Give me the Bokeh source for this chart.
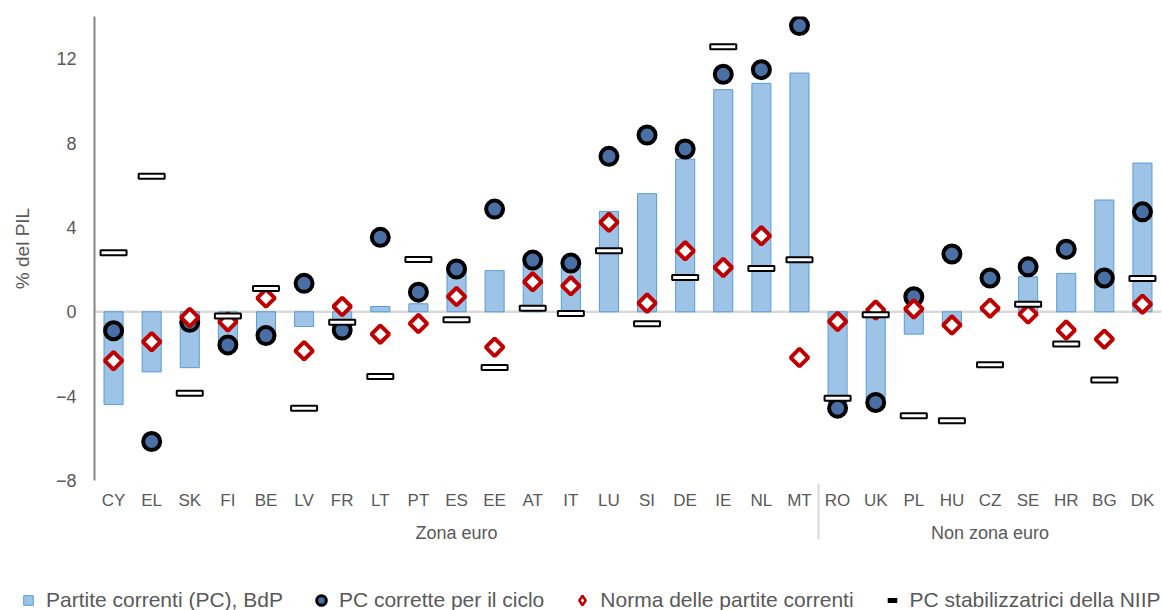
import math
from bokeh.plotting import figure
from bokeh.models import (FactorRange, Range1d, FixedTicker, Span, Legend,
                          LegendItem, ColumnDataSource)
from bokeh.embed import file_html
from bokeh.resources import INLINE

# ---------------- data ----------------
countries = ["CY", "EL", "SK", "FI", "BE", "LV", "FR", "LT", "PT", "ES",
             "EE", "AT", "IT", "LU", "SI", "DE", "IE", "NL", "MT",
             "RO", "UK", "PL", "HU", "CZ", "SE", "HR", "BG", "DK"]
groups = ["Zona euro"] * 19 + ["Non zona euro"] * 9

# Partite correnti (PC), BdP
ca_bop = [-4.4, -2.85, -2.65, -1.5, -1.1, -0.7, -0.75, 0.25, 0.38, 2.0,
          1.95, 2.3, 2.1, 4.76, 5.6, 7.24, 10.53, 10.83, 11.32,
          -4.3, -4.15, -1.06, -0.55, 0.05, 1.66, 1.82, 5.3, 7.05]
# PC corrette per il ciclo
ca_cyc = [-0.9, -6.15, -0.5, -1.57, -1.13, 1.35, -0.87, 3.53, 0.93, 2.03,
          4.87, 2.45, 2.31, 7.37, 8.38, 7.72, 11.26, 11.48, 13.57,
          -4.57, -4.3, 0.71, 2.74, 1.6, 2.13, 2.97, 1.6, 4.74]
# Norma delle partite correnti
ca_norm = [-2.32, -1.42, -0.27, -0.48, 0.65, -1.85, 0.25, -1.06, -0.56, 0.72,
           -1.68, 1.42, 1.23, 4.24, 0.41, 2.89, 2.1, 3.6, -2.17,
           -0.46, 0.08, 0.13, -0.63, 0.17, -0.11, -0.87, -1.3, 0.36]
# PC stabilizzatrici della NIIP
ca_niip = [2.8, 6.42, -3.86, -0.2, 1.1, -4.57, -0.5, -3.07, 2.48, -0.38,
           -2.64, 0.17, -0.08, 2.89, -0.57, 1.63, 12.57, 2.05, 2.47,
           -4.1, -0.14, -4.93, -5.17, -2.51, 0.36, -1.53, -3.23, 1.58]

y_ticks = [-8, -4, 0, 4, 8, 12]
legend_labels = ["Partite correnti (PC), BdP", "PC corrette per il ciclo",
                 "Norma delle partite correnti", "PC stabilizzatrici della NIIP"]

FONT = "Liberation Sans"
TXT = "#595959"
BAR_FILL = "#9dc3e6"
BAR_LINE = "#5b9bd5"
DOT_FILL = "#4a6fa5"
RED = "#c00000"

factors = list(zip(groups, countries))
src = ColumnDataSource(dict(x=factors, bop=ca_bop, cyc=ca_cyc,
                            norm=ca_norm, niip=ca_niip))

p = figure(width=1162, height=570, output_backend="svg", toolbar_location=None,
           x_range=FactorRange(factors=factors, group_padding=0,
                               factor_padding=0, range_padding=0),
           y_range=Range1d(-8, 14),
           min_border_left=94, min_border_right=1, min_border_top=16,
           min_border_bottom=90)
p.outline_line_color = None
p.grid.visible = False

zero = Span(location=0, dimension="width", line_color="#d9d9d9",
            line_width=2.5, level="underlay")
p.add_layout(zero)

p.vbar(x="x", top="bop", bottom=0, width=0.5, source=src,
       fill_color=BAR_FILL, line_color=BAR_LINE, line_width=1)
p.scatter(x="x", y="cyc", source=src, marker="circle", size=17,
          fill_color=DOT_FILL, line_color="black", line_width=4)
p.scatter(x="x", y="norm", source=src, marker="square", size=12.5,
          angle=math.pi / 4, fill_color="white", line_color=RED,
          line_width=4)
p.rect(x="x", y="niip", width=26, height=5, width_units="screen",
       height_units="screen", source=src, fill_color="white",
       line_color="black", line_width=2)

# y axis
yax = p.yaxis[0]
yax.ticker = FixedTicker(ticks=y_ticks)
yax.minor_tick_line_color = None
yax.major_tick_line_color = None
yax.major_tick_in = 0
yax.major_tick_out = 0
yax.axis_line_color = "#868686"
yax.axis_line_width = 2
yax.major_label_standoff = 18
yax.major_label_text_font = FONT
yax.major_label_text_font_size = "18px"
yax.major_label_text_color = TXT
yax.axis_label = "% del PIL"
yax.axis_label_text_font = FONT
yax.axis_label_text_font_size = "19px"
yax.axis_label_text_font_style = "normal"
yax.axis_label_text_color = TXT
yax.axis_label_standoff = 20

# x axis
xax = p.xaxis[0]
xax.axis_line_color = None
xax.major_tick_line_color = None
xax.minor_tick_line_color = None
xax.major_tick_in = 0
xax.major_tick_out = 0
xax.major_label_standoff = 10
xax.major_label_text_font = FONT
xax.major_label_text_font_size = "17px"
xax.major_label_text_color = TXT
xax.group_text_font = FONT
xax.group_text_font_size = "18px"
xax.group_text_font_style = "normal"
xax.group_text_color = TXT
xax.separator_line_color = "#d9d9d9"
xax.separator_line_width = 2

# ---------------- legend strip (separate root, no axes) ----------------
q = figure(width=1162, height=40, output_backend="svg", toolbar_location=None,
           x_range=Range1d(0, 1), y_range=Range1d(0, 1), min_border=0,
           x_axis_location=None, y_axis_location=None)
q.outline_line_color = None
q.grid.visible = False

lx, ly = [-5], [-5]
l1 = q.scatter(x=lx, y=ly, marker="square", size=10,
               fill_color=BAR_FILL, line_color=BAR_LINE, line_width=1)
l2 = q.scatter(x=lx, y=ly, marker="circle", size=10,
               fill_color=DOT_FILL, line_color="black", line_width=3)
l3 = q.scatter(x=lx, y=ly, marker="diamond", size=10,
               fill_color="white", line_color=RED, line_width=2.5)
l4 = q.scatter(x=lx, y=ly, marker="dash", size=10,
               line_color="black", line_width=5)

legend = Legend(items=[LegendItem(label=legend_labels[0], renderers=[l1]),
                       LegendItem(label=legend_labels[1], renderers=[l2]),
                       LegendItem(label=legend_labels[2], renderers=[l3]),
                       LegendItem(label=legend_labels[3], renderers=[l4])],
                orientation="horizontal", location=(16, -2),
                glyph_width=24, glyph_height=24, label_standoff=6,
                spacing=26, padding=0, margin=0, border_line_color=None,
                background_fill_alpha=0, label_text_font=FONT,
                label_text_font_size="21px", label_text_color=TXT)
q.add_layout(legend, "center")

open("out.html", "w").write(file_html([p, q], INLINE))
